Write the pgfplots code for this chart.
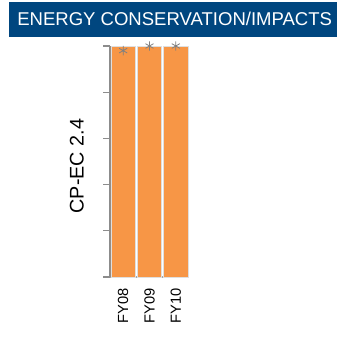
\documentclass[border=0pt]{standalone}
\usepackage{pgfplots}
\pgfplotsset{compat=1.18}
\usepackage{fontspec}
\setmainfont{Liberation Sans}
\definecolor{banner}{HTML}{00467F}
\definecolor{barorange}{HTML}{F79646}
\begin{document}
\begin{tikzpicture}[x=0.75pt,y=0.75pt]
  \useasboundingbox (0,0) rectangle (357,343);
  \fill[banner] (9,306) rectangle (337,341);
  \node[text=white, anchor=west, inner sep=0pt,
    font=\fontsize{13.9}{16}\selectfont] at (17,324) {ENERGY CONSERVATION/IMPACTS};
  \begin{axis}[
    at={(82.5pt,49.5pt)}, anchor=south west,
    scale only axis,
    width=59.25pt, height=173.25pt,
    xmin=-0.5, xmax=2.5,
    ymin=0, ymax=5,
    clip=false,
    axis x line*=bottom, axis y line*=left,
    x axis line style={draw=gray!70, line width=0.8pt},
    y axis line style={draw=gray!90, line width=1.3pt},
    xtick={0,1,2},
    xticklabels={FY08,FY09,FY10},
    major x tick style={draw=none},
    x tick label style={rotate=90, anchor=east,
      font=\fontsize{11}{12}\selectfont},
    xticklabel shift=0pt,
    ytick={0,1,2,3,4,5},
    yticklabels={},
    tick align=outside,
    major tick length=5pt,
    major y tick style={draw=gray!90, line width=0.8pt},
    ylabel={CP-EC 2.4},
    ylabel style={font=\fontsize{14.8}{16}\selectfont,
      at={(axis description cs:-0.42,0.48)}, anchor=center},
    ]
    \addplot[ybar, bar width=0.93, fill=barorange, draw=gray!25]
      coordinates {(0,5) (1,5) (2,5)};
    \addplot[only marks, mark=asterisk, mark size=3.5pt, draw=gray, line width=0.6pt]
      coordinates {(0,4.9) (1,5) (2,5)};
  \end{axis}
\end{tikzpicture}
\end{document}
